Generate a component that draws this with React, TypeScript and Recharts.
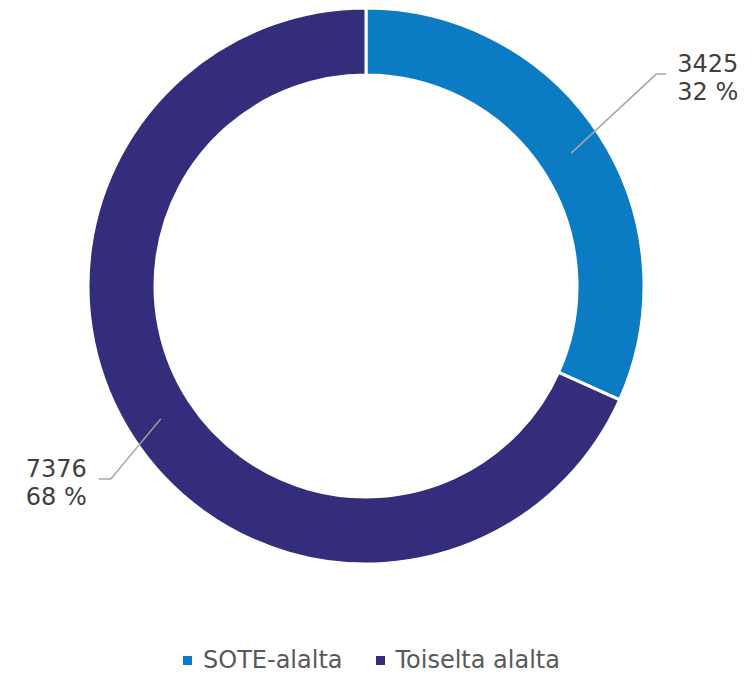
import { PieChart, Pie, Cell, Legend } from "recharts";

const categories = ["SOTE-alalta", "Toiselta alalta"];
const values = [3425, 7376];
const colors = ["#0B7CC3", "#332D7B"];

const data = categories.map((name, i) => ({ name, value: values[i] }));

const RADIAN = Math.PI / 180;

// elbow offsets of the leader lines, per slice
const elbowOffset = [
  { dx: 85, dy: -79, tail: 10 },
  { dx: -50, dy: 60, tail: -12 },
];

function renderLabel(props: any) {
  const { cx, cy, midAngle, innerRadius, outerRadius, percent, value, index } = props;
  const r = (innerRadius + outerRadius) / 2;
  const sx = cx + r * Math.cos(-midAngle * RADIAN);
  const sy = cy + r * Math.sin(-midAngle * RADIAN);
  const off = elbowOffset[index];
  const ex = sx + off.dx;
  const ey = sy + off.dy;
  const tx = ex + off.tail;
  const right = off.tail > 0;
  const textX = right ? tx + 11 : tx - 73;
  return (
    <g>
      <polyline points={`${sx},${sy} ${ex},${ey} ${tx},${ey}`} fill="none" stroke="#A6A6A6" strokeWidth={1.5} />
      <text x={textX} y={ey - 2} fill="#404040" fontSize={24} fontFamily="DejaVu Sans" textAnchor="start">
        {value}
      </text>
      <text x={textX} y={ey + 26} fill="#404040" fontSize={24} fontFamily="DejaVu Sans" textAnchor="start">
        {`${Math.round(percent * 100)} %`}
      </text>
    </g>
  );
}

function renderLegend() {
  return (
    <div style={{ display: "flex", justifyContent: "center", paddingRight: 12, fontFamily: "DejaVu Sans", fontSize: 24, color: "#595959" }}>
      {categories.map((c, i) => (
        <div key={c} style={{ display: "flex", alignItems: "center", marginRight: i === 0 ? 33 : 0 }}>
          <span style={{ width: 9, height: 9, background: colors[i], display: "inline-block", marginRight: 11 }} />
          <span>{c}</span>
        </div>
      ))}
    </div>
  );
}

export default function App() {
  return (
    <div style={{ position: "absolute", left: 0, top: 0, width: 755, height: 674, background: "#fff" }}>
      <PieChart width={755} height={674} margin={{ top: 0, right: 0, bottom: 0, left: 0 }}>
        <Pie
          data={data}
          dataKey="value"
          nameKey="name"
          cx={366}
          cy={286}
          innerRadius={211}
          outerRadius={278}
          startAngle={90}
          endAngle={-270}
          stroke="#fff"
          strokeWidth={3}
          label={renderLabel}
          labelLine={false}
          isAnimationActive={false}
        >
          {data.map((d, i) => (
            <Cell key={d.name} fill={colors[i]} />
          ))}
        </Pie>
        <Legend content={renderLegend} wrapperStyle={{ top: 646, left: 0, width: 755 }} />
      </PieChart>
    </div>
  );
}
